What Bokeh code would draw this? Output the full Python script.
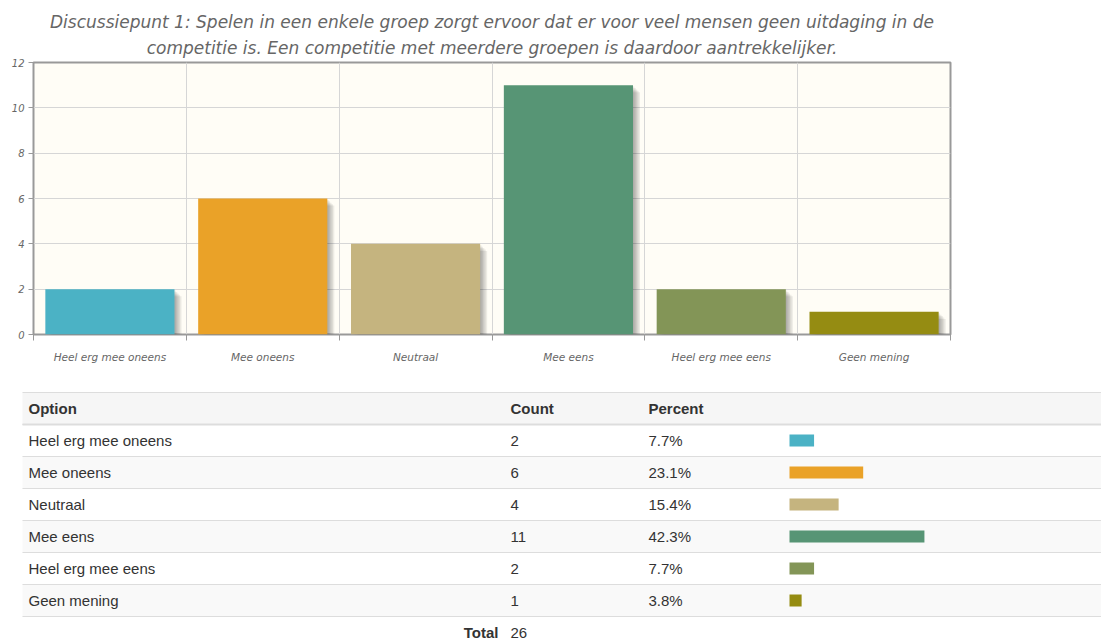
import numpy as np
from bokeh.plotting import figure
from bokeh.models import Range1d, FixedTicker, Title, ColumnDataSource
from bokeh.embed import file_html
from bokeh.resources import INLINE
from bokeh.core.properties import value

# ---------------- data ----------------
title_lines = [
    "Discussiepunt 1: Spelen in een enkele groep zorgt ervoor dat er voor veel mensen geen uitdaging in de",
    "competitie is. Een competitie met meerdere groepen is daardoor aantrekkelijker.",
]
categories = ["Heel erg mee oneens", "Mee oneens", "Neutraal", "Mee eens",
              "Heel erg mee eens", "Geen mening"]
counts = [2, 6, 4, 11, 2, 1]
percents = [7.7, 23.1, 15.4, 42.3, 7.7, 3.8]
percent_labels = ["7.7%", "23.1%", "15.4%", "42.3%", "7.7%", "3.8%"]
total_count = 26
colors = ["#4bb2c5", "#eaa228", "#c5b47f", "#579575", "#839557", "#958c12"]
y_ticks = [0, 2, 4, 6, 8, 10, 12]
header = ["Option", "Count", "Percent"]

# ---------------- chart ----------------
W1, H1 = 1101, 380
ML, MR, MT, MB = 33, 151, 62, 46
frame_w = W1 - ML - MR
frame_h = H1 - MT - MB
n = len(categories)
ymax = 12

p = figure(width=W1, height=H1, x_range=Range1d(0, n), y_range=Range1d(0, ymax),
           output_backend="svg", toolbar_location=None, title=None,
           min_border_left=ML, min_border_right=MR, min_border_top=MT,
           min_border_bottom=MB)
p.background_fill_color = "#fffdf6"
p.border_fill_color = "white"
p.outline_line_color = "#999999"
p.outline_line_width = 2

for line, so in zip(reversed(title_lines), [9, 0]):
    t = Title(text=line, align="center", text_font="DejaVu Sans",
              text_font_size="17px", text_font_style="italic",
              text_color="#666666", standoff=so)
    p.add_layout(t, "above")

p.xgrid.ticker = FixedTicker(ticks=list(range(n + 1)))
p.ygrid.ticker = FixedTicker(ticks=y_ticks)
p.grid.grid_line_color = "#d6d6d6"
p.grid.grid_line_width = 1

centers = [i + 0.5 for i in range(n)]
xa = p.xaxis[0]
xa.ticker = FixedTicker(ticks=centers, minor_ticks=list(range(n + 1)))
xa.major_label_overrides = {c: cat for c, cat in zip(centers, categories)}
xa.major_tick_line_color = None
xa.major_tick_out = 0
xa.minor_tick_line_color = "#999999"
xa.minor_tick_out = 6
xa.minor_tick_in = 0
xa.axis_line_color = None
xa.major_label_standoff = 10
xa.major_label_text_font = "DejaVu Sans"
xa.major_label_text_font_style = "italic"
xa.major_label_text_font_size = "10.5px"
xa.major_label_text_color = "#666666"

ya = p.yaxis[0]
ya.ticker = FixedTicker(ticks=y_ticks, minor_ticks=[])
ya.major_tick_out = 5
ya.major_tick_in = 0
ya.major_tick_line_color = "#999999"
ya.minor_tick_line_color = None
ya.axis_line_color = None
ya.major_label_standoff = 4
ya.major_label_text_font = "DejaVu Sans"
ya.major_label_text_font_style = "italic"
ya.major_label_text_font_size = "10px"
ya.major_label_text_color = "#666666"

px_x = frame_w / n
px_y = frame_h / ymax
bar_w = 0.845
cx = np.array(centers)
cy = np.array(counts, dtype=float)
for k in range(1, 6):
    off = 1.41 * k
    p.vbar(x=cx + off / px_x, top=cy - off / px_y, bottom=0, width=bar_w,
           fill_color="black", fill_alpha=0.07, line_color=None)
src = ColumnDataSource(dict(x=centers, top=counts, color=colors))
p.vbar(x="x", top="top", bottom=0, width=bar_w, fill_color="color",
       line_color=None, source=src)

# ---------------- table ----------------
W2, H2 = 1101, 261
top_page = H1
tb = figure(width=W2, height=H2, x_range=Range1d(0, W2),
            y_range=Range1d(top_page + H2, top_page),
            output_backend="svg", toolbar_location=None,
            x_axis_type=None, y_axis_type=None, min_border=0,
            min_border_left=0, min_border_right=0, min_border_top=0,
            min_border_bottom=0)
tb.outline_line_color = None
tb.background_fill_color = "white"
tb.border_fill_color = "white"

tx0, tx1 = 22, 1101
head_top = 392
row_h = 32
col_x = [28, 510, 648]
bar_x0 = 789
px_per_pct = 3.19

tb.quad(left=tx0, right=tx1, top=head_top, bottom=head_top + row_h,
        fill_color="#f6f6f6", line_color=None)
row_tops = [head_top + row_h * (i + 1) for i in range(n)]
row_y = [rt + row_h / 2 for rt in row_tops]
for i, rt in enumerate(row_tops):
    if i % 2 == 1:
        tb.quad(left=tx0, right=tx1, top=rt, bottom=rt + row_h,
                fill_color="#f9f9f9", line_color=None)
line_ys = [head_top + row_h * k for k in range(n + 2)]
tb.segment(x0=[tx0] * len(line_ys), x1=[tx1] * len(line_ys), y0=line_ys, y1=line_ys,
           line_color="#dddddd", line_width=1)
tb.segment(x0=[tx0], x1=[tx1], y0=[head_top + row_h], y1=[head_top + row_h],
           line_color="#dddddd", line_width=2)

font = value("Liberation Sans")
tb.text(x=col_x, y=[head_top + row_h / 2] * 3, text=header, text_font=font,
        text_font_size="15px", text_font_style="bold", text_color="#333333",
        text_baseline="middle", text_align="left")
tb.text(x=[col_x[0]] * n, y=row_y, text=categories, text_font=font,
        text_font_size="15px", text_color="#333333", text_baseline="middle")
tb.text(x=[col_x[1]] * n, y=row_y, text=[str(c) for c in counts], text_font=font,
        text_font_size="15px", text_color="#333333", text_baseline="middle")
tb.text(x=[col_x[2]] * n, y=row_y, text=percent_labels, text_font=font,
        text_font_size="15px", text_color="#333333", text_baseline="middle")

tb.extra_x_ranges = {"pct": Range1d(start=(0 - bar_x0) / px_per_pct,
                                    end=(W2 - bar_x0) / px_per_pct)}
tb.hbar(y=row_y, left=0, right=percents, height=12, fill_color=colors,
        line_color=None, x_range_name="pct")

total_y = head_top + row_h * (n + 1) + 16
tb.text(x=[col_x[1] - 12], y=[total_y], text=["Total"], text_font=font,
        text_font_size="15px", text_font_style="bold", text_color="#333333",
        text_baseline="middle", text_align="right")
tb.text(x=[col_x[1]], y=[total_y], text=[str(total_count)], text_font=font,
        text_font_size="15px", text_color="#333333", text_baseline="middle")

open("out.html", "w").write(file_html([p, tb], INLINE))
